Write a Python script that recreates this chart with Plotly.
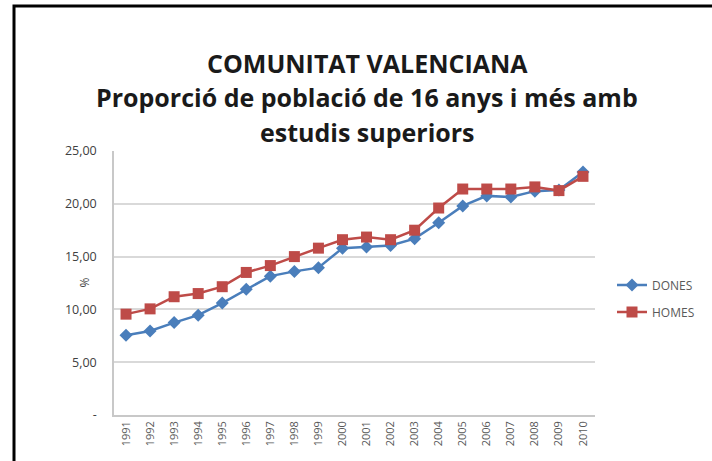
import plotly.graph_objects as go

years = [str(y) for y in range(1991, 2011)]
dones = [7.55, 7.95, 8.75, 9.45, 10.6, 11.9, 13.15, 13.6, 13.95, 15.8, 15.9, 16.05, 16.7, 18.2, 19.8, 20.75, 20.65, 21.2, 21.3, 23.0]
homes = [9.55, 10.05, 11.2, 11.5, 12.15, 13.5, 14.15, 15.0, 15.8, 16.6, 16.85, 16.6, 17.5, 19.6, 21.4, 21.4, 21.4, 21.6, 21.25, 22.6]
y_ticks = [0, 5, 10, 15, 20, 25]
y_labels = ["-", "5,00", "10,00", "15,00", "20,00", "25,00"]

W, H = 712, 461
L, R, T, B = 114, 712 - 595, 151, 461 - 415
pw, ph = W - L - R, H - T - B

def px(x):
    return (x - L) / pw

def py(y):
    return (H - B - y) / ph

font = "Open Sans"
fig = go.Figure()
fig.add_trace(go.Scatter(
    x=years, y=dones, name="DONES", mode="lines+markers",
    line=dict(color="#4a7ebb", width=2.5),
    marker=dict(symbol="diamond", size=10, color="#4a7ebb"),
    legend="legend"))
fig.add_trace(go.Scatter(
    x=years, y=homes, name="HOMES", mode="lines+markers",
    line=dict(color="#be4b48", width=2.5),
    marker=dict(symbol="square", size=11, color="#be4b48"),
    legend="legend2"))

fig.update_layout(
    width=W, height=H,
    margin=dict(l=L, r=R, t=T, b=B),
    paper_bgcolor="white", plot_bgcolor="white",
    font=dict(family=font, color="#404040"),
    showlegend=True,
    legend=dict(x=px(612), y=py(285), xanchor="left", yanchor="middle",
                font=dict(size=12, color="#595959"), bgcolor="rgba(0,0,0,0)"),
    legend2=dict(x=px(612), y=py(312), xanchor="left", yanchor="middle",
                 font=dict(size=12, color="#595959"), bgcolor="rgba(0,0,0,0)"),
    xaxis=dict(
        type="category", showgrid=False, showline=True, linecolor="#c8c8c8", linewidth=1.5,
        tickangle=-90, tickfont=dict(size=11, color="#595959"), ticks="",
        range=[-0.5, 19.5], fixedrange=True),
    yaxis=dict(
        range=[0, 25], tickvals=y_ticks, ticktext=y_labels, showgrid=True,
        gridcolor="#d9d9d9", gridwidth=1.5, showline=True, linecolor="#c8c8c8", linewidth=1.5,
        tickfont=dict(size=12.5, color="#404040"), ticks="", ticklabelstandoff=13,
        zeroline=False),
)

fig.add_annotation(text="%", x=px(73), y=py(283), xref="paper", yref="paper",
                   textangle=-90, showarrow=False, font=dict(size=12, color="#404040"))

titles = ["COMUNITAT VALENCIANA", "Proporció de població de 16 anys i més amb", "estudis superiors"]
ys = [44, 78, 113]
for t, yy in zip(titles, ys):
    fig.add_annotation(text="<b>%s</b>" % t, x=px(367), y=py(yy), xref="paper", yref="paper",
                       showarrow=False, font=dict(size=25, color="#1a1a1a", family=font))

fig.add_shape(type="rect", xref="paper", yref="paper",
              x0=px(14), y0=py(480), x1=px(760), y1=py(6),
              line=dict(color="black", width=3), fillcolor="rgba(0,0,0,0)")

fig.write_html("out.html", config={"displayModeBar": False},
               post_script="document.body.style.margin='0';")
